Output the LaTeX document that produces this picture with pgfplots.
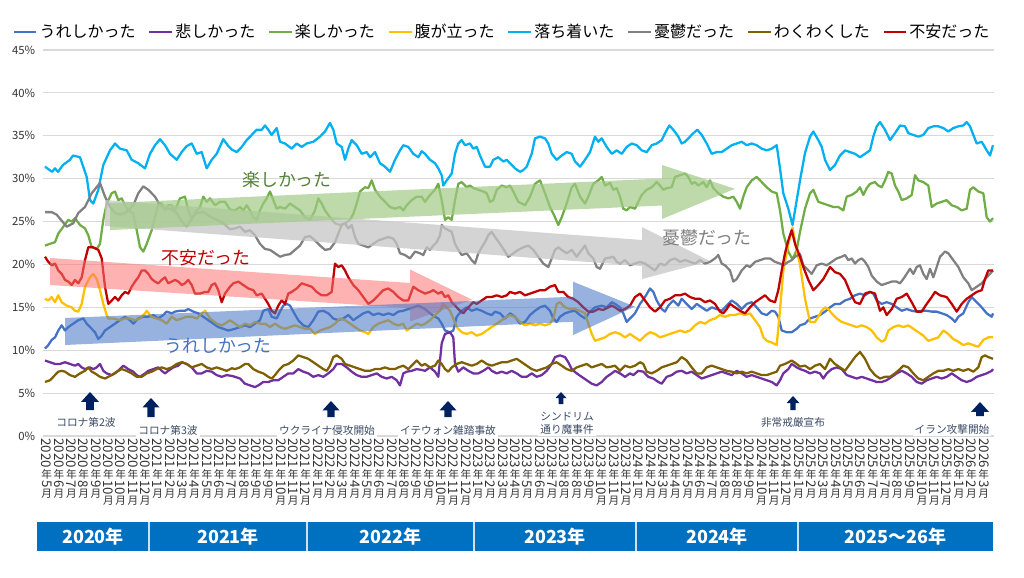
\documentclass[border=0pt]{standalone}
\usepackage{fontspec}
\setmainfont{Noto Sans CJK JP}
\usepackage{graphicx}
\usepackage{pgfplots}
\pgfplotsset{compat=1.18}
\definecolor{cBlue}{HTML}{4472C4}
\definecolor{cPurple}{HTML}{7030A0}
\definecolor{cGreen}{HTML}{70AD47}
\definecolor{cYellow}{HTML}{FFC000}
\definecolor{cCyan}{HTML}{00B0F0}
\definecolor{cGray}{HTML}{808080}
\definecolor{cBrown}{HTML}{7F6000}
\definecolor{cRed}{HTML}{C00000}
\definecolor{cNavy}{HTML}{002060}
\definecolor{cAnn}{HTML}{3B4A64}
\definecolor{cBand}{HTML}{0070C0}
\definecolor{cGrid}{HTML}{D9D9D9}
\newcommand{\dg}{\fontsize{10}{10}\selectfont}
\newcommand{\ml}[2]{\vtop{\offinterlineskip
  \hbox to 10pt{\hss\rotatebox{-90}{\dg #1}\hss}\kern1.2pt
  \hbox to 10pt{\hss 年\hss}\kern0.6pt
  \hbox to 10pt{\hss\rotatebox{-90}{\dg #2}\hss}\kern1.2pt
  \hbox to 10pt{\hss 月\hss}}}
\newcommand{\uparr}[4]{\fill[cNavy] (axis cs:#1,{(436-#2)/8.578}) -- (axis cs:{#1+#4},{(436-#2-#4*1.1)/8.578}) -- (axis cs:{#1+#4*0.42},{(436-#2-#4*1.1)/8.578}) -- (axis cs:{#1+#4*0.42},{(436-#3)/8.578}) -- (axis cs:{#1-#4*0.42},{(436-#3)/8.578}) -- (axis cs:{#1-#4*0.42},{(436-#2-#4*1.1)/8.578}) -- (axis cs:{#1-#4},{(436-#2-#4*1.1)/8.578}) -- cycle;}
\begin{document}
\begin{tikzpicture}
\begin{axis}[
  x=0.75pt, y=6.4335pt,
  xmin=42.5, xmax=993.5, ymin=0, ymax=45,
  clip=false,
  axis line style={draw=none},
  ymajorgrids, grid style={cGrid, line width=0.8pt},
  ytick={0,5,...,45},
  yticklabels={0\%,5\%,10\%,15\%,20\%,25\%,30\%,35\%,40\%,45\%},
  yticklabel style={font=\fontsize{8.5}{10}\selectfont, color=black!80, xshift=-2pt},
  major tick length=0pt, tick style={draw=none},
  xtick={46.7,59.0,71.4,83.7,96.0,108.4,120.7,133.0,145.3,157.7,170.0,182.3,194.7,207.0,219.3,231.7,244.0,256.3,268.6,281.0,293.3,305.6,318.0,330.3,342.6,355.0,367.3,379.6,392.0,404.3,416.6,428.9,441.3,453.6,465.9,478.3,490.6,502.9,515.2,527.6,539.9,552.2,564.6,576.9,589.2,601.6,613.9,626.2,638.5,650.9,663.2,675.5,687.9,700.2,712.5,724.9,737.2,749.5,761.8,774.2,786.5,798.8,811.2,823.5,835.8,848.2,860.5,872.8,885.1,897.5,909.8,922.1,934.5,946.8,959.1,971.5,983.8},
  xticklabels={{\ml{2020}{5}},{\ml{2020}{6}},{\ml{2020}{7}},{\ml{2020}{8}},{\ml{2020}{9}},{\ml{2020}{10}},{\ml{2020}{10}},{\ml{2020}{11}},{\ml{2020}{12}},
  {\ml{2021}{1}},{\ml{2021}{2}},{\ml{2021}{3}},{\ml{2021}{4}},{\ml{2021}{5}},{\ml{2021}{6}},{\ml{2021}{7}},{\ml{2021}{8}},{\ml{2021}{9}},{\ml{2021}{9}},{\ml{2021}{10}},{\ml{2021}{11}},{\ml{2021}{12}},
  {\ml{2022}{1}},{\ml{2022}{2}},{\ml{2022}{3}},{\ml{2022}{4}},{\ml{2022}{5}},{\ml{2022}{6}},{\ml{2022}{7}},{\ml{2022}{8}},{\ml{2022}{9}},{\ml{2022}{9}},{\ml{2022}{10}},{\ml{2022}{11}},{\ml{2022}{12}},
  {\ml{2023}{1}},{\ml{2023}{2}},{\ml{2023}{3}},{\ml{2023}{4}},{\ml{2023}{5}},{\ml{2023}{6}},{\ml{2023}{7}},{\ml{2023}{8}},{\ml{2023}{8}},{\ml{2023}{9}},{\ml{2023}{10}},{\ml{2023}{11}},{\ml{2023}{12}},
  {\ml{2024}{1}},{\ml{2024}{2}},{\ml{2024}{3}},{\ml{2024}{4}},{\ml{2024}{5}},{\ml{2024}{6}},{\ml{2024}{7}},{\ml{2024}{8}},{\ml{2024}{8}},{\ml{2024}{9}},{\ml{2024}{10}},{\ml{2024}{11}},{\ml{2024}{12}},
  {\ml{2025}{1}},{\ml{2025}{2}},{\ml{2025}{3}},{\ml{2025}{4}},{\ml{2025}{5}},{\ml{2025}{6}},{\ml{2025}{7}},{\ml{2025}{7}},{\ml{2025}{8}},{\ml{2025}{9}},{\ml{2025}{10}},{\ml{2025}{11}},{\ml{2025}{12}},
  {\ml{2026}{1}},{\ml{2026}{2}},{\ml{2026}{3}}},
  xticklabel style={font=\fontsize{8}{8}\selectfont, anchor=north, inner sep=0pt, yshift=-1.5pt, color=black!80},
  legend columns=8,
  legend style={at={(0.4832,1.0466)}, anchor=center, draw=none, fill=none,
    font=\fontsize{12}{14}\selectfont, nodes={inner xsep=1.5pt},
    /tikz/every even column/.append style={column sep=8pt}},
  every axis plot/.append style={line width=1.7pt, line join=round, no markers},
]
\coordinate (BL) at (axis cs:0,-16.437);
\coordinate (TR) at (axis cs:1024,50.828);
% うれしかった
\addplot[cBlue] table {
x y
45 10.2
48.3 10.6
51.7 11.2
55 11.5
58.3 12.3
61.7 12.9
65 12.3
68.3 12.7
73.3 13.1
78.3 13.5
83.3 13.7
86.7 13.1
90 12.7
95 12.1
98.3 11.3
101.7 11.7
105 12.3
110 12.7
115 13.1
120 13.5
125 13.9
130 13.5
133.3 13.1
138.3 13.7
143.3 13.9
148.3 13.9
153.3 14.1
158.3 13.7
163.3 14.1
166.7 14.5
171.7 14.3
175 14.5
180 14.6
185 14.6
188.3 14.8
193.3 14.5
198.3 14.3
203.3 13.9
208.3 13.5
213.3 13.1
218.3 12.7
223.3 12.5
228.3 12.3
235 12.5
240 12.7
245 12.9
250 12.7
255 13.1
260 13.5
263.3 14.6
268.3 14.8
271.7 13.9
276.7 13.7
280 14.5
283.3 15.2
286.7 15.4
290 15.2
293.3 14.5
298.3 13.5
303.3 12.9
308.3 12.7
313.3 13.5
318.3 14.5
323.3 14.6
328.3 14.3
333.3 13.7
338.3 13.5
343.3 13.7
348.3 14.1
353.3 13.5
358.3 13.9
363.3 14.3
368.3 14.5
373.3 14.1
378.3 14.3
383.3 14.1
388.3 14.3
393.3 14.1
398.3 14.5
403.3 14.6
408.3 14.8
413.3 15.0
418.3 15.2
425 14.8
430 14.3
435 13.9
438.3 13.7
441.7 13.1
445 12.3
450 12.1
453.3 12.3
456.7 13.9
461.7 14.6
466.7 15.0
471.7 14.6
476.7 14.8
481.7 14.6
486.7 14.3
491.7 14.1
495 14.5
500 14.3
505 13.7
510 14.3
515 13.9
520 13.1
525 13.3
530 14.1
535 14.6
540 15.0
545 15.2
550 14.6
553.3 13.7
556.7 13.3
560 13.9
565 14.3
570 14.5
575 14.6
580 14.1
585 13.7
590 14.5
595 15.0
601.7 15.2
606.7 15.0
611.7 15.6
615 15.4
620 15.0
623.3 14.3
626.7 13.3
630 13.7
635 14.3
640 15.4
645 16.2
650 17.2
653.3 16.8
656.7 15.8
661.7 14.8
665 14.5
668.3 15.2
673.3 15.8
678.3 15.2
681.7 16.0
686.7 15.4
691.7 14.8
696.7 15.4
701.7 15.0
706.7 14.6
711.7 15.0
716.7 14.8
721.7 14.6
726.7 15.2
731.7 15.8
736.7 15.4
741.7 14.8
746.7 15.4
751.7 15.6
756.7 15.0
761.7 14.3
766.7 14.1
771.7 14.6
775 14.5
778.3 13.9
781.7 12.3
786.7 12.1
791.7 12.1
796.7 12.5
800 12.9
805 13.1
810 13.7
815 13.9
820 14.1
825 14.5
830 15.0
835 15.4
840 15.4
845 15.8
850 16.0
855 16.4
860 16.6
865 16.4
870 16.8
873.3 16.6
876.7 15.8
881.7 15.4
886.7 15.6
891.7 15.4
896.7 15.0
901.7 14.6
906.7 14.8
911.7 14.6
916.7 14.5
921.7 14.6
926.7 14.6
931.7 14.5
936.7 14.5
941.7 14.3
946.7 14.1
951.7 13.7
955 13.3
958.3 13.9
963.3 14.3
968.3 15.6
971.7 16.2
976.7 15.6
981.7 15.0
986.7 14.3
991.7 13.9
993 14.3
};
\addlegendentry{うれしかった}
% 悲しかった
\addplot[cPurple] table {
x y
45 8.8
50 8.6
55 8.4
60 8.4
65 8.6
70 8.4
75 8.2
78.3 8.4
81.7 8.0
85 7.8
90 8.0
93.3 7.8
96.7 8.0
100 8.4
103.3 7.6
106.7 7.3
111.7 7.1
115 7.3
120 7.8
123.3 8.2
128.3 7.8
133.3 7.5
136.7 7.1
140 6.9
145 7.3
148.3 7.6
153.3 7.8
158.3 8.0
161.7 7.6
165 7.3
168.3 7.6
173.3 8.0
178.3 8.2
181.7 8.6
186.7 8.4
191.7 8.0
196.7 7.3
201.7 7.3
206.7 7.6
211.7 7.5
216.7 7.1
221.7 6.9
226.7 7.1
232 7.0
235 6.9
240 6.7
245 6.1
250 5.9
255 5.7
258.3 5.9
263.3 6.3
268.3 6.3
273.3 6.5
278.3 6.5
283.3 6.9
288.3 7.3
293.3 7.3
298.3 7.8
303.3 7.5
308.3 7.3
313.3 6.9
318.3 7.1
323.3 6.9
328.3 7.3
333.3 7.8
336.7 8.4
341.7 8.4
346.7 8.0
351.7 7.5
356.7 7.1
361.7 6.9
366.7 6.9
371.7 7.1
376.7 7.3
381.7 6.9
386.7 6.7
391.7 6.9
396.7 6.5
400 5.9
403.3 7.3
406.7 7.5
411.7 7.6
416.7 7.8
421.7 7.7
425 7.6
430 8.0
435 7.5
438.3 6.9
440 8.8
441.7 10.8
445 11.9
450 12.1
453.3 11.5
455 8.4
458.3 7.5
463.3 8.0
468.3 7.6
473.3 7.3
478.3 7.3
483.3 7.6
488.3 8.0
491.7 7.6
496.7 7.3
501.7 7.5
506.7 7.3
511.7 7.6
516.7 7.3
521.7 6.9
526.7 6.9
531.7 7.3
536.7 6.9
541.7 7.1
546.7 7.6
551.7 8.4
555 9.2
560 9.4
565 9.2
568.3 8.6
571.7 7.8
576.7 7.3
581.7 6.9
586.7 6.5
591.7 6.1
596.7 5.9
601.7 6.3
606.7 6.9
611.7 7.3
615 7.6
620 7.3
625 6.9
630 7.3
633.3 7.1
638.3 7.6
643.3 7.5
648.3 6.9
653.3 6.7
658.3 6.3
661.7 6.1
666.7 6.9
671.7 7.1
676.7 7.5
681.7 7.6
686.7 7.3
691.7 7.5
696.7 7.1
701.7 6.7
706.7 6.9
711.7 7.1
716.7 7.3
721.7 7.5
726.7 7.3
731.7 7.1
736.7 7.6
741.7 7.3
746.7 6.9
751.7 7.1
756.7 6.9
761.7 6.7
766.7 6.5
771.7 6.3
776.7 5.9
780 6.5
783.3 7.3
788.3 7.8
791.7 8.4
796.7 8.0
800 7.8
805 7.6
810 7.3
815 7.5
820 7.3
823.3 6.7
826.7 7.3
831.7 7.8
836.7 8.0
841.7 7.8
846.7 7.1
851.7 6.9
856.7 6.7
861.7 6.9
866.7 6.7
871.7 6.5
876.7 6.3
881.7 6.3
886.7 6.5
891.7 6.9
896.7 7.3
901.7 7.6
906.7 7.3
911.7 6.9
916.7 6.3
921.7 6.1
926.7 6.5
931.7 6.7
936.7 6.9
941.7 6.7
946.7 6.9
951.7 7.3
956.7 6.9
961.7 6.5
966.7 6.3
971.7 6.5
976.7 6.9
981.7 7.1
986.7 7.3
991.7 7.6
993 7.8
};
\addlegendentry{悲しかった}
% 楽しかった
\addplot[cGreen] table {
x y
45 22.2
50 22.4
55 22.6
58.3 23.6
63.3 24.4
68.3 25.2
71.7 25.0
75 25.4
80 24.6
85 24.2
88.3 23.4
91.7 22.0
96.7 21.8
100 22.4
103.3 25.2
106.7 27.1
111.7 28.3
115 28.5
118.3 27.5
121.7 27.7
125 26.9
128.3 26.3
133.3 25.9
136.7 24.0
140 22.0
143.3 21.5
146.7 22.4
151.7 24.0
155 25.5
158.3 27.1
161.7 27.1
165 26.3
168.3 26.9
171.7 26.9
175 26.3
180 27.7
185 27.9
188.3 26.3
191.7 25.2
195 26.1
200 26.7
203.3 27.9
206.7 27.3
210 27.7
215 26.9
220 27.3
225 27.3
230 26.4
235 26.3
240 26.7
243.3 26.3
246.7 26.9
250 26.3
253.3 25.5
256.7 25.2
260 26.3
263.3 27.1
266.7 27.7
270 28.5
273.3 27.5
276.7 26.5
280 26.7
285 26.5
290 27.1
295 26.7
300 26.3
305 25.5
310 25.2
315 26.3
318.3 27.7
321.7 27.1
325 26.3
330 25.5
335 24.8
340 24.6
345 24.8
350 25.2
353.3 25.9
356.7 27.1
360 28.5
365 29.0
368.3 28.9
371.7 29.8
375 28.7
380 27.9
385 27.3
390 26.7
395 26.5
400 26.7
403.3 26.3
406.7 26.9
411.7 27.5
416.7 27.9
421.7 27.9
425 27.3
430 28.1
435 28.7
438.3 29.4
441.7 27.5
445 25.2
448.3 25.5
451.7 25.2
455 27.5
458.3 29.4
461.7 29.6
466.7 29.0
470 29.2
473.3 28.9
478.3 28.7
483.3 28.5
486.7 28.3
490 27.3
493.3 27.5
496.7 28.7
501.7 29.2
506.7 29.0
510 29.2
513.3 28.5
518.3 27.3
521.7 27.1
525 26.9
530 27.9
535 29.4
540 29.8
545 28.3
550 26.7
555 25.5
558.3 24.6
561.7 25.5
566.7 27.1
571.7 29.0
575 29.4
580 27.9
585 27.1
588.3 27.9
593.3 29.4
598.3 29.8
601.7 30.2
605 29.2
610 29.5
613.3 28.7
616.7 28.9
620 27.9
623.3 26.5
626.7 26.3
630 26.7
635 26.5
638.3 27.3
641.7 28.1
646.7 28.7
651.7 29.0
656.7 29.6
660 29.2
663.3 28.7
666.7 28.9
671.7 29.0
675 30.2
680 30.4
685 30.6
688.3 30.2
691.7 29.4
695 29.6
698.3 29.2
703.3 29.6
706.7 29.0
710 29.8
713.3 28.9
718.3 28.3
723.3 27.9
728.3 27.7
733.3 27.9
736.7 27.3
740 26.5
743.3 27.9
746.7 29.0
751.7 29.8
756.7 30.2
761.7 29.6
766.7 29.0
771.7 28.5
776.7 28.3
780 26.3
783.3 23.6
788.3 21.5
792.5 20.6
796.7 21.7
800 23.8
805 26.5
810 28.3
813.3 28.7
818.3 27.3
823.3 27.1
828.3 26.9
833.3 26.7
838.3 26.7
843.3 26.3
846.7 27.9
851.7 28.1
856.7 28.5
860 29.0
863.3 28.1
866.7 28.9
870 29.4
875 29.6
878.3 29.2
881.7 29.0
885 29.8
888.3 30.8
891.7 30.6
895 29.2
898.3 28.5
901.7 27.5
906.7 27.7
911.7 28.1
915 30.4
918.3 29.8
923.3 29.6
928.3 29.2
931.7 26.7
936.7 27.1
941.7 27.3
946.7 27.5
951.7 26.9
956.7 26.7
961.7 26.3
966.7 26.5
970 28.7
973.3 29.0
978.3 28.5
983.3 28.3
986.7 25.5
990 25.0
993 25.4
};
\addlegendentry{楽しかった}
% 腹が立った
\addplot[cYellow] table {
x y
45 16.0
48.3 15.8
51.7 16.2
55 15.6
58.3 16.4
61.7 15.6
66.7 15.2
71.7 15.0
75 14.6
78.3 14.5
81.7 15.4
85 17.4
90 18.5
93.3 18.9
96.7 18.3
100 17.0
103.3 15.4
106.7 14.1
108.3 13.7
113.3 13.7
120 13.5
125 13.7
130 13.7
135 13.5
140 13.7
145 14.3
146.7 14.6
151.7 13.9
156.7 13.7
161.7 13.5
166.7 13.1
171.7 13.9
176.7 13.5
181.7 13.7
186.7 13.9
191.7 13.9
196.7 13.7
201.7 14.3
205 14.6
210 13.7
216.7 13.1
221.7 12.9
225 13.1
230 13.5
235 13.1
240 12.7
245 13.1
250 12.9
255 13.3
260 13.1
265 13.1
270 12.7
275 13.1
280 12.7
285 12.5
290 12.7
295 12.9
300 12.7
305 12.5
310 12.5
315 11.9
320 12.3
325 12.5
330 12.7
335 13.1
340 13.7
345 13.5
350 13.1
355 12.7
360 12.3
365 12.1
368.3 11.9
373.3 12.7
378.3 13.1
383.3 13.3
388.3 13.5
393.3 13.1
398.3 12.9
403.3 13.1
406.7 12.3
411.7 12.7
416.7 13.1
421.7 12.9
425 13.1
430 13.5
435 14.1
440 14.6
443.3 15.4
446.7 15.0
450 14.6
453.3 13.7
456.7 12.7
461.7 12.1
466.7 11.9
471.7 12.1
476.7 11.7
481.7 11.9
486.7 12.3
491.7 12.7
496.7 13.1
501.7 13.5
506.7 13.9
510 14.1
515 13.9
520 13.3
525 12.9
530 13.1
535 12.9
540 13.1
545 12.9
550 13.1
553.3 13.7
556.7 15.4
560 15.6
565 15.0
570 14.8
575 14.8
580 14.6
585 14.3
588.3 13.1
591.7 11.9
595 11.1
600 11.3
605 11.5
610 11.9
615 12.1
620 11.9
625 11.5
630 11.9
635 11.5
640 11.1
645 11.7
650 12.1
655 11.9
660 11.5
665 11.7
670 11.9
675 12.1
680 12.3
685 12.1
690 12.3
695 12.9
700 13.3
705 13.1
710 13.5
715 13.7
720 14.1
725 13.9
730 14.1
735 14.1
740 14.3
745 14.1
750 14.3
755 13.5
760 12.7
763.3 11.5
766.7 11.1
771.7 10.9
776.7 10.6
780 14.7
783.3 19.3
788.3 22.4
792.5 24.3
796 22.0
800 20.0
805 16.0
810 13.3
815 13.3
818.3 13.9
821.7 14.6
825 15.0
828.3 14.8
831.7 14.3
836.7 13.7
841.7 13.3
846.7 13.1
851.7 12.9
856.7 12.7
861.7 12.9
866.7 12.7
871.7 12.3
876.7 11.5
881.7 11.0
885 11.2
888.3 12.3
893.3 12.7
898.3 12.9
903.3 12.7
908.3 12.9
913.3 12.5
918.3 12.1
923.3 11.7
928.3 11.1
933.3 11.3
938.3 11.5
943.3 12.3
948.3 11.9
953.3 11.3
958.3 11.0
963.3 10.6
968.3 10.8
973.3 10.6
978.3 10.4
983.3 11.2
988.3 11.5
993 11.5
};
\addlegendentry{腹が立った}
% 落ち着いた
\addplot[cCyan] table {
x y
45 31.4
52 30.8
55 31.2
58 30.8
63 31.6
70 32.2
73 32.7
80 32.5
86.7 30.2
90 27.5
93.3 27.1
98.3 28.7
103.3 31.6
110 33.3
115 34.1
120 33.5
126.7 33.3
131.7 32.2
138.3 31.8
145 31.2
150 32.9
155 33.9
160 34.6
165 33.9
170 32.9
176.7 32.2
181.7 33.1
186.7 33.8
191.7 34.1
196.7 32.9
201.7 33.1
206.7 31.2
211.7 32.2
216.7 32.9
223.3 34.6
228.3 33.8
231.7 33.4
236.7 33.1
241.7 33.7
246.7 34.5
251.7 35.1
256.7 35.7
261.7 35.7
265 36.2
268.3 35.7
271.7 35.1
276.7 35.9
280 34.3
285 34.1
291.7 33.5
296.7 34.1
301.7 33.7
306.7 34.1
313.3 34.3
320 34.9
325 35.5
330 36.5
333.3 35.7
336.7 34.1
341.7 33.7
345 32.2
348.3 33.5
351.7 34.5
356.7 33.9
361.7 32.9
366.7 33.1
370 32.5
375 33.1
380 31.8
385 31.4
390 30.8
395 32.2
400 33.3
403.3 33.9
408.3 33.7
413.3 32.9
418.3 32.5
421.7 33.2
425 32.9
430 32.2
435 31.8
438.3 31.2
441.7 30.4
443.3 29.2
446.7 29.8
451.7 30.6
455 32.9
458.3 34.1
461.7 34.5
465 33.9
470 34.1
473.3 33.5
476.7 33.7
480 32.7
485 31.4
490 31.4
493.3 32.2
498.3 32.5
503.3 32.0
506.7 32.2
510 31.8
515 31.2
520 30.8
523.3 31.0
526.7 31.4
531.7 32.9
535 34.7
540 34.9
545 34.7
548.3 34.1
551.7 32.9
556.7 32.2
561.7 32.7
566.7 33.1
571.7 32.9
575 32.0
580 31.4
585 32.2
590 33.1
595 34.9
598.3 34.3
601.7 34.7
606.7 33.7
611.7 32.9
616.7 33.3
621.7 32.9
626.7 33.7
631.7 34.1
636.7 33.9
641.7 33.3
646.7 33.1
651.7 33.9
656.7 34.1
661.7 34.5
665 35.3
669.3 36.2
673.3 35.7
678.3 34.9
681.7 34.1
685 34.3
690 34.9
693.3 35.3
697.3 35.7
701.7 35.1
706.7 34.1
711.7 32.9
716.7 33.1
721.7 33.1
726.7 33.5
731.7 33.9
736.7 34.1
741.7 34.3
746.7 33.9
751.7 34.1
756.7 33.9
761.7 33.5
766.7 33.3
771.7 33.5
776.7 33.9
780 31.2
783.3 28.3
788.3 26.5
792.5 24.6
795 26.3
800 29.8
805 33.0
810 34.9
813.3 35.5
818.3 34.5
821.7 33.7
825 32.2
830 31.0
835 31.6
840 32.7
845 33.3
850 33.1
855 32.9
860 32.5
865 32.9
870 33.3
873.3 34.9
876.7 36.1
880 36.6
885 35.7
890 34.5
895 35.3
900 36.2
905 36.1
908.3 35.3
913.3 35.1
918.3 34.9
923.3 35.1
928.3 35.9
933.3 36.1
938.3 36.1
943.3 35.9
948.3 35.5
953.3 35.9
958.3 36.1
963.3 36.2
966.7 36.6
970 36.1
973.3 35.1
976.7 34.1
981.7 34.3
986.7 33.3
990 32.7
993 33.9
};
\addlegendentry{落ち着いた}
% 憂鬱だった
\addplot[cGray] table {
x y
45 26.1
51.7 26.1
56.7 25.8
66.7 24.4
73.3 24.8
78.3 26.0
85 26.7
91.7 28.3
100 29.5
105 27.9
110 26.7
115 26.0
120 25.8
126.7 26.1
133.3 26.9
138.3 28.3
143.3 29.1
148.3 28.7
155 27.9
160 26.9
165 26.5
170 26.5
176.7 26.0
181.7 25.0
186.7 24.4
191.7 25.4
196.7 26.0
203.3 26.1
210 25.6
216.7 25.2
223.3 24.8
230 24.1
235 24.2
240 24.4
245 23.8
250 24.0
255 23.4
260 22.4
265 21.8
270 21.7
275 21.3
280 20.9
285 21.1
290 21.2
295 21.7
300 22.2
305 23.2
310 23.3
315 22.8
320 22.2
325 21.7
330 21.8
335 22.6
338.3 23.6
341.7 24.6
345 24.8
348.3 24.2
351.7 24.6
355 23.2
358.3 22.4
363.3 22.2
368.3 22.0
373.3 22.4
378.3 22.8
383.3 23.0
388.3 23.2
393.3 23.0
396.7 22.4
400 21.3
405 21.1
410 20.7
415 21.5
420 21.3
423.3 21.1
426.7 22.0
430 21.7
433.3 22.2
436.7 22.6
440 23.4
441.7 24.6
445 24.2
448.3 24.0
451.7 23.8
455 22.4
458.3 21.7
461.7 21.1
466.7 21.3
471.7 20.5
475 20.1
478.3 21.3
481.7 22.0
485 22.6
488.3 23.4
491.7 23.8
495 23.2
500 22.4
505 21.5
508.3 20.9
513.3 21.3
518.3 21.7
523.3 22.0
528.3 22.2
533.3 21.7
538.3 20.9
543.3 20.1
548.3 19.7
551.7 20.7
555 21.7
558.3 22.0
561.7 21.7
566.7 21.3
571.7 21.7
576.7 20.9
581.7 21.7
585 22.2
588.3 21.3
593.3 20.7
596.7 19.7
600 19.5
605 20.7
610 20.8
613.3 20.9
616.7 20.3
620 20.1
625 20.5
630 19.9
635 20.1
640 20.3
645 20.1
650 19.7
655 19.3
660 20.1
665 19.9
670 20.5
675 20.7
680 20.3
685 20.5
690 20.3
695 20.1
700 20.5
705 20.1
710 20.3
715 20.7
718.3 21.1
721.7 20.1
725 19.9
730 19.3
733.3 18.0
736.7 18.3
741.7 19.3
746.7 19.9
750 19.7
755 20.3
760 20.5
765 20.7
770 20.7
775 20.3
780 20.1
783.3 19.9
788.3 20.3
791.7 20.5
795 20.9
800 21.2
803.3 19.9
806.7 19.5
811.7 18.9
816.7 19.9
821.7 20.1
826.7 19.9
831.7 20.3
836.7 20.7
841.7 20.9
845 21.1
848.3 20.5
851.7 20.7
855 20.1
858.3 20.5
861.7 20.7
865 20.3
868.3 19.7
871.7 18.7
876.7 18.0
881.7 17.6
886.7 17.8
891.7 18.0
896.7 18.0
900 17.8
903.3 18.3
906.7 18.9
910 19.5
913.3 18.9
916.7 19.7
920 19.9
923.3 18.9
926.7 18.3
930 19.5
933.3 18.5
936.7 19.7
940 20.9
945 21.5
948.3 21.3
953.3 20.5
958.3 19.7
963.3 18.5
968.3 17.8
971.7 17.0
976.7 17.4
981.7 17.8
986.7 18.5
993 19.3
};
\addlegendentry{憂鬱だった}
% わくわくした
\addplot[cBrown] table {
x y
45 6.3
50 6.5
55 7.1
58.3 7.5
61.7 7.6
65 7.5
70 7.1
75 6.9
80 7.3
85 7.6
88.3 8.0
91.7 7.5
95 7.3
100 6.9
105 6.7
108.3 6.9
111.7 7.1
116.7 7.5
121.7 7.8
126.7 7.6
131.7 7.3
136.7 6.9
141.7 6.9
146.7 7.3
151.7 7.5
156.7 7.8
161.7 8.0
166.7 7.8
171.7 8.0
176.7 8.4
181.7 8.6
186.7 8.4
191.7 8.0
196.7 8.2
201.7 8.4
206.7 8.0
211.7 7.8
216.7 8.0
221.7 7.8
226.7 7.6
232 7.9
235 7.8
240 8.0
245 8.4
248.3 8.4
253.3 7.8
258.3 7.5
263.3 7.3
268.3 6.9
271.7 6.7
275 7.1
278.3 7.6
283.3 8.2
288.3 8.4
293.3 8.8
298.3 9.4
303.3 9.2
308.3 9.0
313.3 8.6
318.3 8.2
323.3 7.8
326.7 7.6
330 8.2
333.3 9.2
336.7 9.4
341.7 9.0
345 8.4
350 8.2
355 8.0
360 7.8
365 7.6
370 7.6
375 7.8
380 7.8
385 8.0
390 7.8
395 7.8
398.3 8.0
403.3 8.2
408.3 7.8
413.3 8.4
416.7 8.8
421.7 8.2
425 8.4
430 8.0
435 8.2
438.3 8.8
441.7 8.4
445 7.8
448.3 7.5
451.7 8.0
456.7 8.4
461.7 8.6
466.7 8.4
471.7 8.2
476.7 8.4
481.7 8.8
486.7 8.4
491.7 8.2
496.7 8.4
501.7 8.6
506.7 8.6
511.7 8.8
516.7 9.0
521.7 8.6
526.7 8.2
531.7 7.8
536.7 7.6
541.7 7.8
546.7 8.0
551.7 8.4
556.7 8.6
561.7 8.2
566.7 7.8
571.7 7.6
576.7 8.0
581.7 8.2
586.7 8.4
591.7 8.0
596.7 8.2
601.7 8.4
606.7 8.0
611.7 8.1
615 8.2
620 7.6
625 8.2
630 8.0
635 8.2
640 8.6
643.3 8.4
646.7 7.5
651.7 7.3
656.7 7.6
661.7 8.0
666.7 8.2
671.7 8.4
676.7 8.6
681.7 9.2
686.7 8.8
691.7 8.0
696.7 7.3
701.7 7.3
706.7 8.0
711.7 8.2
716.7 8.0
721.7 7.8
726.7 7.6
731.7 7.5
736.7 7.3
741.7 7.5
746.7 7.3
751.7 7.5
756.7 7.3
761.7 7.1
766.7 7.1
771.7 7.3
776.7 7.5
780 8.2
785 8.4
791.7 8.8
796.7 8.4
800 8.1
805 8.2
810 7.8
815 8.2
820 8.4
825 7.8
830 9.0
835 8.4
840 8.0
845 7.6
850 8.4
855 9.2
860 9.8
865 9.0
870 7.8
875 7.1
880 6.7
885 6.9
890 6.9
895 7.3
900 7.8
903.3 8.2
908.3 8.0
913.3 7.3
918.3 6.7
923.3 6.5
928.3 6.9
933.3 7.3
938.3 7.6
943.3 7.6
948.3 7.8
953.3 7.6
958.3 7.8
963.3 7.6
968.3 7.8
973.3 7.5
978.3 8.0
981.7 9.2
985 9.4
988.3 9.2
993 9.0
};
\addlegendentry{わくわくした}
% 不安だった
\addplot[cRed] table {
x y
45 20.9
48.3 20.3
51.7 19.9
55 20.1
58.3 19.3
61.7 18.9
65 18.2
68.3 18.0
71.7 17.6
75 18.2
78.3 17.8
81.7 18.5
85 20.5
88.3 22.0
93.3 22.0
98.3 21.7
101.7 20.7
105 17.4
108.3 15.4
111.7 15.8
115 16.2
118.3 15.8
121.7 16.4
125 16.8
128.3 16.6
131.7 17.4
135 18.0
138.3 18.5
141.7 19.3
145 19.3
148.3 18.9
151.7 18.3
155 18.0
158.3 17.8
161.7 18.2
165 18.5
168.3 17.8
171.7 18.0
175 18.2
178.3 18.0
181.7 17.6
185 17.8
188.3 18.2
191.7 17.6
195 16.6
200 16.6
205 16.8
208.3 16.8
211.7 17.6
215 17.8
218.3 17.0
221.7 15.6
225 16.6
230 17.4
233.3 17.8
238.3 18.0
243.3 17.6
248.3 17.2
253.3 17.0
256.7 16.4
261.7 16.6
265 16.0
268.3 15.4
271.7 14.6
275 14.3
278.3 15.2
281.7 15.8
285 15.4
288.3 16.6
291.7 16.8
296.7 17.2
301.7 17.8
306.7 17.6
311.7 17.4
316.7 16.8
321.7 16.4
326.7 16.4
331.7 16.8
335 20.1
338.3 19.7
341.7 19.9
345 19.3
348.3 18.5
353.3 17.6
358.3 17.0
363.3 16.2
368.3 15.4
373.3 15.8
378.3 16.4
383.3 17.0
388.3 17.2
393.3 16.8
398.3 16.2
403.3 15.8
408.3 15.8
413.3 17.4
418.3 17.0
425 16.6
430 16.8
433.3 17.0
438.3 16.6
441.7 16.8
445 16.2
448.3 16.4
451.7 15.6
456.7 15.0
460 14.6
463.3 14.3
466.7 14.8
470 15.2
473.3 15.6
476.7 15.4
481.7 15.8
486.7 16.2
491.7 16.2
496.7 16.4
501.7 16.2
506.7 16.4
510 16.8
515 16.6
520 16.8
525 16.4
530 16.6
535 16.8
540 17.0
545 17.0
550 17.4
555 17.6
558.3 16.8
563.3 16.8
568.3 16.2
573.3 16.0
578.3 15.6
583.3 15.0
588.3 14.5
593.3 14.5
598.3 14.8
603.3 14.7
608.3 15.0
612 15.2
615 15.0
620 14.6
625 14.8
630 15.2
635 16.2
640 16.6
645 15.8
650 15.0
655 14.5
660 15.0
665 15.8
670 16.0
675 16.4
680 16.4
685 16.6
690 16.2
695 16.0
700 16.0
705 15.6
710 15.8
715 15.4
720 14.5
723.3 14.3
726.7 14.8
730 15.4
735 15.0
740 14.6
745 14.3
750 15.0
755 15.6
760 16.0
765 16.4
770 15.8
775 15.6
778.3 17.0
781.7 19.3
785 21.3
788.3 22.8
791.7 24.0
795 22.4
800 20.9
803.3 19.7
808.3 18.2
813.3 17.0
818.3 17.6
823.3 18.3
830 19.7
835 19.1
840 18.9
845 18.2
850 16.8
855 15.6
860 15.4
865 16.6
870 16.8
875 16.6
880 14.6
883.3 15.0
886.7 14.1
891.7 14.8
896.7 16.0
901.7 16.2
906.7 16.6
911.7 15.6
916.7 14.5
921.7 14.5
926.7 15.4
931.7 16.2
935 16.8
940 16.4
946.7 16.2
951.7 15.4
956.7 14.5
961.7 15.4
966.7 16.0
971.7 16.4
976.7 16.8
981.7 17.0
985 18.3
988.3 19.3
993 19.3
};
\addlegendentry{不安だった}
% trend arrows
\fill[cGray!45, opacity=0.75] (axis cs:105,27.51) -- (axis cs:642,22.85) -- (axis cs:642,24.36) -- (axis cs:710,20.40) -- (axis cs:642,18.30) -- (axis cs:642,19.82) -- (axis cs:105,24.48) -- cycle;
\fill[cGreen!65, opacity=0.7] (axis cs:110,27.16) -- (axis cs:662,30.02) -- (axis cs:662,31.59) -- (axis cs:735,28.82) -- (axis cs:662,25.30) -- (axis cs:662,26.87) -- (axis cs:110,24.01) -- cycle;
\fill[red!55, opacity=0.55] (axis cs:50,20.75) -- (axis cs:410,17.84) -- (axis cs:410,19.41) -- (axis cs:472,15.90) -- (axis cs:410,13.35) -- (axis cs:410,14.92) -- (axis cs:50,17.60) -- cycle;
\fill[cBlue, opacity=0.55] (axis cs:65,13.76) -- (axis cs:573,16.24) -- (axis cs:573,17.99) -- (axis cs:635,15.09) -- (axis cs:573,11.77) -- (axis cs:573,13.32) -- (axis cs:65,10.61) -- cycle;
\node[font=\fontsize{13.4}{15}\selectfont, text={rgb,255:red,84;green,130;blue,53}] at (axis cs:287,29.84) {楽しかった};
\node[font=\fontsize{13.4}{15}\selectfont, text=black!50] at (axis cs:707,23.08) {憂鬱だった};
\node[font=\fontsize{13.4}{15}\selectfont, text=cRed] at (axis cs:206,20.75) {不安だった};
\node[font=\fontsize{13.4}{15}\selectfont, text=cBlue] at (axis cs:218,10.49) {うれしかった};
% event markers
\uparr{90}{392}{410}{9}
\uparr{151}{398}{417}{8.5}
\uparr{331}{401}{417}{8.5}
\uparr{448}{401}{417}{8.5}
\uparr{561}{392}{404}{5.5}
\uparr{793}{396}{410}{6.5}
\uparr{980}{402}{416}{9}
\begin{scope}[every node/.style={font=\fontsize{8}{9.5}\selectfont, text=cAnn, fill=white, inner sep=1.5pt}]
\node at (axis cs:86,1.55) {コロナ第2波};
\node at (axis cs:168,0.70) {コロナ第3波};
\node at (axis cs:327,0.70) {ウクライナ侵攻開始};
\node at (axis cs:448,0.70) {イテウォン雑踏事故};
\node[align=center] at (axis cs:567,1.46) {シンドリム\\通り魔事件};
\node at (axis cs:793,1.55) {非常戒厳宣布};
\node at (axis cs:952,0.82) {イラン攻撃開始};
\end{scope}
% year band
\fill[cBand] (axis cs:37,-10.03) rectangle (axis cs:993,-13.41);
\draw[white!80!cBand, line width=0.8pt] (axis cs:149,-10.03) -- (axis cs:149,-13.41);
\draw[white!80!cBand, line width=0.8pt] (axis cs:307,-10.03) -- (axis cs:307,-13.41);
\draw[white!80!cBand, line width=0.8pt] (axis cs:474,-10.03) -- (axis cs:474,-13.41);
\draw[white!80!cBand, line width=0.8pt] (axis cs:636,-10.03) -- (axis cs:636,-13.41);
\draw[white!80!cBand, line width=0.8pt] (axis cs:798,-10.03) -- (axis cs:798,-13.41);
\begin{scope}[every node/.style={font=\fontsize{13.5}{15}\selectfont\bfseries, text=white}]
\node at (axis cs:93,-11.72) {2020年};
\node at (axis cs:228,-11.72) {2021年};
\node at (axis cs:390.5,-11.72) {2022年};
\node at (axis cs:555,-11.72) {2023年};
\node at (axis cs:717,-11.72) {2024年};
\node at (axis cs:895.5,-11.72) {2025～26年};
\end{scope}
\end{axis}
\pgfresetboundingbox
\useasboundingbox (BL) rectangle (TR);
\end{tikzpicture}
\end{document}
